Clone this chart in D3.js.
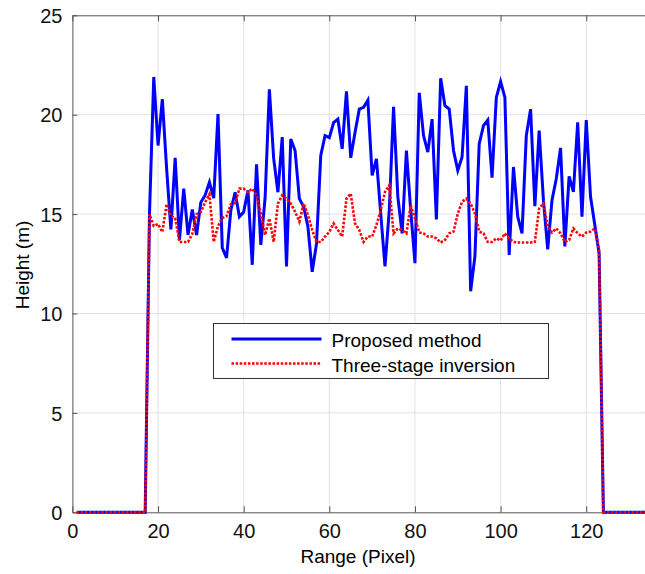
<!DOCTYPE html>
<html>
<head>
<meta charset="utf-8">
<script src="https://cdn.jsdelivr.net/npm/d3@7"></script>
<style>
  body { margin: 0; background: #fff; }
  svg { display: block; font-family: "Liberation Sans", Arial, sans-serif; }
  .grid line { stroke: #c4c4c4; stroke-width: 1; stroke-dasharray: 1,1; }
  .axis path, .axis line { stroke: #555; }
  .axis text { fill: #111; font-size: 20px; }
</style>
</head>
<body>
<div id="chart"></div>
<script>
// range index of the first sample (pixel 1), one sample per pixel
const firstPixel = 1;

// Proposed method, heights per pixel 1..134
const proposedHeights = [
  0, 0, 0, 0, 0, 0, 0, 0, 0, 0, 0, 0, 0, 0, 0, 0, 0,
  15.0, 21.9, 18.45, 20.78, 17.3, 14.23, 17.83, 13.7, 16.28, 13.95,
  15.23, 13.95, 15.6, 15.95, 16.6, 15.8, 20.03, 13.3, 12.8, 15.2,
  16.1, 14.87, 15.1, 16.2, 12.45, 17.5, 13.45, 15.8, 21.28, 17.8,
  16.1, 18.87, 12.37, 18.78, 18.2, 15.78, 15.37, 14.37, 12.1, 13.5,
  17.95, 18.95, 18.85, 19.6, 19.78, 18.28, 21.17, 17.83, 19.1, 20.28,
  20.37, 20.73, 16.95, 17.78, 15.03, 12.37, 15.2, 20.4, 15.87, 14.03,
  18.2, 15.2, 12.53, 21.1, 18.95, 18.12, 19.78, 14.73, 21.83, 20.45,
  20.28, 18.2, 17.2, 17.87, 21.45, 11.12, 12.87, 18.53, 19.45, 19.73,
  16.83, 20.87, 21.67, 20.87, 12.95, 17.37, 14.87, 14.03, 18.95, 20.28,
  15.4, 19.2, 15.7, 13.23, 15.7, 16.78, 18.33, 13.37, 16.9, 16.12,
  19.62, 14.87, 19.73, 15.87, 14.45, 13.03,
  0, 0, 0, 0, 0, 0, 0, 0, 0, 0, 0
];

// Three-stage inversion, heights per pixel 1..134
const threeStageHeights = [
  0, 0, 0, 0, 0, 0, 0, 0, 0, 0, 0, 0, 0, 0, 0, 0, 0,
  15.0, 14.4, 14.5, 14.1, 15.5, 14.9, 14.8, 13.6, 13.6, 13.6,
  14.0, 15.0, 15.1, 15.6, 16.0, 13.6, 14.4, 14.8, 14.9, 15.5,
  15.55, 16.28, 16.28, 16.1, 16.28, 15.95, 15.03, 13.95, 14.78, 13.6,
  15.53, 15.95, 15.78, 15.53, 15.12, 14.62, 15.53, 14.95, 14.2, 13.6,
  13.6, 13.87, 14.1, 14.53, 14.2, 13.87, 15.78, 16.03, 14.53, 14.2,
  13.6, 13.87, 13.87, 14.45, 15.2, 16.12, 16.45, 14.03, 14.28, 14.2,
  14.03, 15.45, 14.78, 14.08, 14.03, 13.87, 13.87, 13.78, 13.57, 13.7,
  14.03, 14.12, 15.03, 15.62, 15.78, 15.53, 15.03, 14.12, 14.03, 13.6,
  13.6, 13.78, 13.67, 14.03, 13.78, 13.6, 13.57, 13.57, 13.57, 13.57,
  13.6, 15.28, 15.53, 14.37, 14.07, 14.28, 14.03, 13.6, 13.7, 14.28,
  14.03, 13.87, 14.07, 14.12, 14.28, 13.2,
  0, 0, 0, 0, 0, 0, 0, 0, 0, 0, 0
];

const seriesNames = ["Proposed method", "Three-stage inversion"];
const seriesColors = ["#0000ff", "#ff0000"];
const xTicks = [0, 20, 40, 60, 80, 100, 120];
const yTicks = [0, 5, 10, 15, 20, 25];
const xDomain = [0, 134];
const yDomain = [0, 25];

const width = 645, height = 574;
const margin = { top: 15.3, right: -1.2, bottom: 61.7, left: 72.4 };
const innerW = width - margin.left - margin.right;
const innerH = height - margin.top - margin.bottom;

const svg = d3.select("#chart").append("svg")
  .attr("width", width)
  .attr("height", height);

const g = svg.append("g")
  .attr("transform", `translate(${margin.left},${margin.top})`);

const x = d3.scaleLinear().domain(xDomain).range([0, innerW]);
const y = d3.scaleLinear().domain(yDomain).range([innerH, 0]);

// grid
g.append("g").attr("class", "grid")
  .selectAll("line").data(xTicks.filter(t => t > 0))
  .join("line")
  .attr("x1", d => x(d)).attr("x2", d => x(d))
  .attr("y1", 0).attr("y2", innerH);
g.append("g").attr("class", "grid")
  .selectAll("line").data(yTicks.filter(t => t > 0 && t < 25))
  .join("line")
  .attr("x1", 0).attr("x2", innerW)
  .attr("y1", d => y(d)).attr("y2", d => y(d));

// axes, ticks pointing inward
const xAxis = g.append("g").attr("class", "axis")
  .attr("transform", `translate(0,${innerH})`)
  .call(d3.axisBottom(x).tickValues(xTicks).tickSizeInner(-6).tickSizeOuter(0).tickPadding(12));
const yAxis = g.append("g").attr("class", "axis")
  .call(d3.axisLeft(y).tickValues(yTicks).tickSizeInner(-5).tickSizeOuter(0).tickPadding(10));
g.append("g").attr("class", "axis")
  .call(d3.axisTop(x).tickValues(xTicks).tickSizeInner(-6).tickSizeOuter(0).tickFormat(""));

xAxis.selectAll("text").attr("dy", "0.71em");
yAxis.selectAll("text").attr("dy", "0.36em");

// lines
const line = d3.line()
  .x((d, i) => x(firstPixel + i))
  .y(d => y(d));

g.append("path")
  .datum(proposedHeights)
  .attr("fill", "none")
  .attr("stroke", seriesColors[0])
  .attr("stroke-width", 3)
  .attr("stroke-linejoin", "miter")
  .attr("d", line);

g.append("path")
  .datum(threeStageHeights)
  .attr("fill", "none")
  .attr("stroke", seriesColors[1])
  .attr("stroke-width", 2.6)
  .attr("stroke-dasharray", "2.5,1.6")
  .attr("d", line);

// axis titles
svg.append("text")
  .attr("x", 358).attr("y", 563)
  .attr("text-anchor", "middle")
  .style("font-size", "19px")
  .text("Range (Pixel)");
svg.append("text")
  .attr("transform", "translate(28.5,265) rotate(-90)")
  .attr("text-anchor", "middle")
  .style("font-size", "19px")
  .text("Height (m)");

// legend
const legend = svg.append("g").attr("transform", "translate(213.5,323.5)");
legend.append("rect")
  .attr("width", 335).attr("height", 55)
  .attr("fill", "#fff").attr("stroke", "#333").attr("stroke-width", 1);
seriesNames.forEach((name, i) => {
  const ly = 15.5 + i * 24.5;
  legend.append("line")
    .attr("x1", 18).attr("x2", 108)
    .attr("y1", ly).attr("y2", ly)
    .attr("stroke", seriesColors[i])
    .attr("stroke-width", i === 0 ? 3 : 2.6)
    .attr("stroke-dasharray", i === 0 ? null : "2.5,1.6");
  legend.append("text")
    .attr("x", 118).attr("y", ly + 8)
    .style("font-size", "19px")
    .text(name);
});
</script>
</body>
</html>
